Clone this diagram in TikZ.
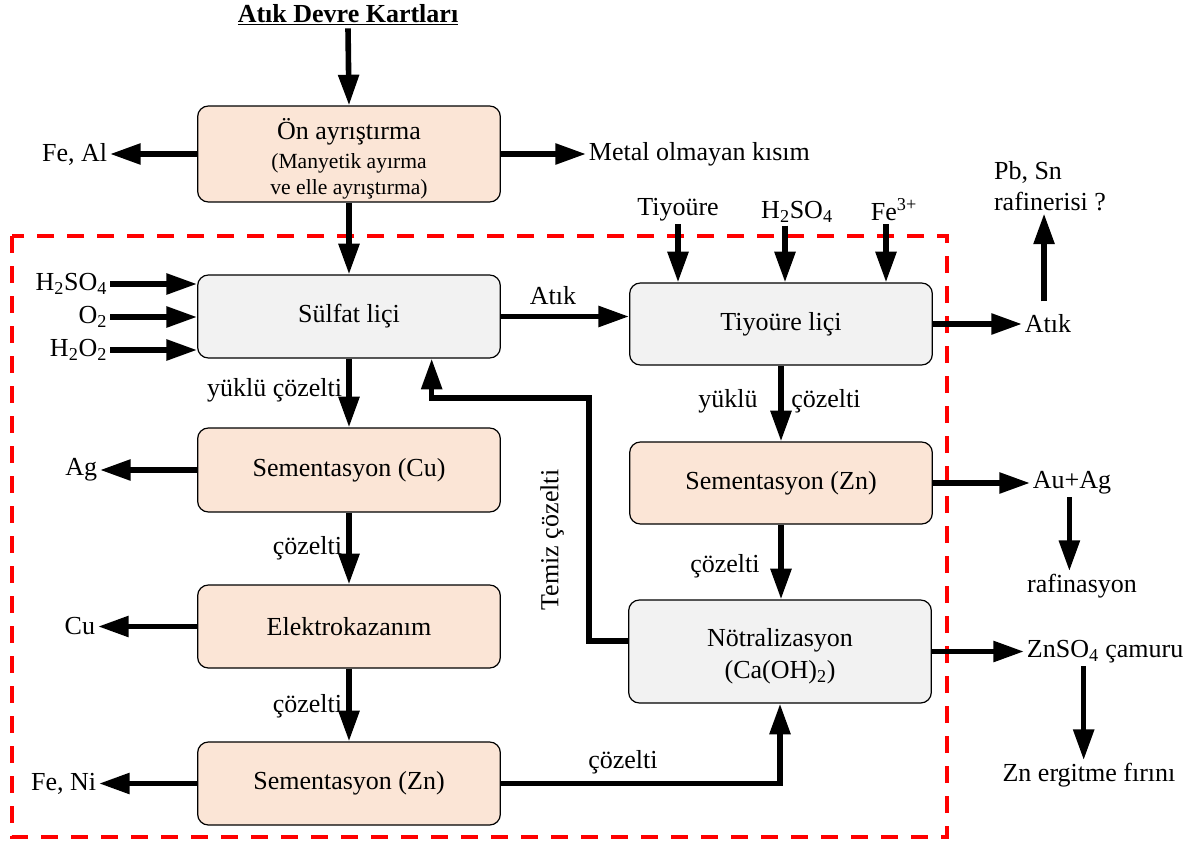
\documentclass[tikz,border=0pt]{standalone}
\usepackage{fontspec}
\setmainfont{Liberation Serif}
\usetikzlibrary{arrows.meta,calc}
\definecolor{peach}{HTML}{FBE5D6}
\definecolor{lgray}{HTML}{F2F2F2}
\definecolor{dred}{HTML}{FF0000}
\newcommand{\smallfnt}{\fontsize{16.2}{18.5}\selectfont}
\begin{document}
\begin{tikzpicture}[x=0.75pt,y=-0.75pt,
  font=\fontsize{19.5}{23}\selectfont,
  box/.style={draw=black, line width=0.9pt, rounded corners=8pt, minimum width=227pt, align=center, inner sep=2pt},
  pbox/.style={box, fill=peach},
  gbox/.style={box, fill=lgray},
  arr/.style={line width=4.2pt, -{Triangle[length=23pt,width=15pt]}},
  lbl/.style={inner sep=2pt},
]
\useasboundingbox (0,0) rectangle (1199,845);
% dashed frame
\draw[dred, line width=2.8pt, dash pattern=on 13pt off 9.5pt] (12,236) rectangle (947,837);

% title
\node[lbl, font=\fontsize{19.5}{23}\selectfont\bfseries] (title) at (348,15) {\underline{Atık Devre Kartları}};

% boxes
\node[pbox, minimum height=69.75pt] (on) at (349,154) {\rule{0pt}{23pt}Ön ayrıştırma\\[-1.5pt]\smallfnt (Manyetik ayırma\\[-3pt]\smallfnt ve elle ayrıştırma)};
\node[gbox, minimum height=62.25pt] (sulfat) at (349,316.5) {Sülfat liçi};
\node[pbox, minimum height=63pt] (semcu) at (349,470) {Sementasyon (Cu)};
\node[pbox, minimum height=62.25pt] (elektro) at (349,626.5) {Elektrokazanım};
\node[pbox, minimum height=62.25pt] (semzn) at (349,783.5) {Sementasyon (Zn)};
\node[gbox, minimum height=61.5pt] (tiyo) at (781,324) {Tiyoüre liçi};
\node[pbox, minimum height=61.5pt] (semzn2) at (781,483) {Sementasyon (Zn)};
\node[gbox, minimum height=77.25pt] (notr) at (780,651.5) {\rule{0pt}{20pt}Nötralizasyon\\[1pt](Ca(OH)\textsubscript{2})};

% outside labels
\node[lbl, anchor=east] (feal) at (110,154) {Fe, Al};
\node[lbl, anchor=west] (metal) at (586,154) {Metal olmayan kısım};
\node[lbl, anchor=east] (h2so4) at (110,284) {H\textsubscript{2}SO\textsubscript{4}};
\node[lbl, anchor=east] (o2) at (110,317) {O\textsubscript{2}};
\node[lbl, anchor=east] (h2o2) at (110,350) {H\textsubscript{2}O\textsubscript{2}};
\node[lbl] (atik1) at (553,296) {Atık};
\node[lbl] (tiyolbl) at (678,210) {Tiyoüre};
\node[lbl] (h2so4b) at (797,212) {H\textsubscript{2}SO\textsubscript{4}};
\node[lbl] (fe3) at (894,210) {Fe\textsuperscript{3+}};
\node[lbl, anchor=west] (atik2) at (1022,324) {Atık};
\node[lbl, align=left] (pbsn) at (1050,186) {Pb, Sn\\rafinerisi ?};
\node[lbl, anchor=east] (yc1) at (345,390) {yüklü çözelti};
\node[lbl, anchor=east] (ag) at (100,470) {Ag};
\node[lbl, anchor=east] (cz1) at (345,548) {çözelti};
\node[lbl, anchor=east] (cu) at (98,626.5) {Cu};
\node[lbl, anchor=east] (cz2) at (345,706) {çözelti};
\node[lbl, anchor=east] (feni) at (99,783.5) {Fe, Ni};
\node[lbl] (cz3) at (623,762) {çözelti};
\node[lbl, rotate=90] (temiz) at (552,540) {Temiz çözelti};
\node[lbl] (yuklu2) at (728,401) {yüklü};
\node[lbl] (cz4) at (826,401) {çözelti};
\node[lbl] (cz5) at (725,566) {çözelti};
\node[lbl, anchor=west] (auag) at (1030,483) {Au+Ag};
\node[lbl] (rafin) at (1082,586) {rafinasyon};
\node[lbl, anchor=west] (znso4) at (1024,652) {ZnSO\textsubscript{4} çamuru};
\node[lbl] (zner) at (1089,775) {Zn ergitme fırını};
\coordinate (retc) at (589,398);

% connectors
\draw[arr] (title.south) -- (on.north);
\draw[arr] (on.west) -- (on.west -| feal.east);
\draw[arr] (on.east) -- (on.east -| metal.west);
\draw[arr] (on.south) -- (sulfat.north);
\draw[arr] (h2so4.east) -- (h2so4.east -| sulfat.west);
\draw[arr] (o2.east) -- (o2.east -| sulfat.west);
\draw[arr] (h2o2.east) -- (h2o2.east -| sulfat.west);
\draw[arr] (sulfat.east) -- (sulfat.east -| tiyo.west);
\draw[arr] (tiyolbl.south) -- (tiyolbl.south |- tiyo.north);
\draw[arr] ([xshift=-9pt]h2so4b.south) -- ([xshift=-9pt]h2so4b.south |- tiyo.north);
\draw[arr] ([xshift=-6pt]fe3.south) -- ([xshift=-6pt]fe3.south |- tiyo.north);
\draw[arr] (tiyo.east) -- (tiyo.east -| atik2.west);
\draw[arr, shorten <=8pt] ([xshift=-3pt]atik2.north) -- ([xshift=-3pt]atik2.north |- pbsn.south);
\draw[arr] (sulfat.south) -- (semcu.north);
\draw[arr] (semcu.west) -- (semcu.west -| ag.east);
\draw[arr] (semcu.south) -- (elektro.north);
\draw[arr] (elektro.west) -- (elektro.west -| cu.east);
\draw[arr] (elektro.south) -- (semzn.north);
\draw[arr] (semzn.west) -- (semzn.west -| feni.east);
\draw[arr] (semzn.east) -| (notr.south);
\draw[arr] ([yshift=8pt]notr.west) -| (retc) -| ([xshift=62pt]sulfat.south);
\draw[arr] (tiyo.south) -- (semzn2.north);
\draw[arr] (semzn2.east) -- (semzn2.east -| auag.west);
\draw[arr] (semzn2.south) -- (semzn2.south |- notr.north);
\draw[arr] ([xshift=-2pt]auag.south) -- ([xshift=-2pt]auag.south |- rafin.north);
\draw[arr] (notr.east) -- (notr.east -| znso4.west);
\draw[arr] ([xshift=-4pt]zner.north |- znso4.south) -- ([xshift=-4pt]zner.north);
\end{tikzpicture}
\end{document}
